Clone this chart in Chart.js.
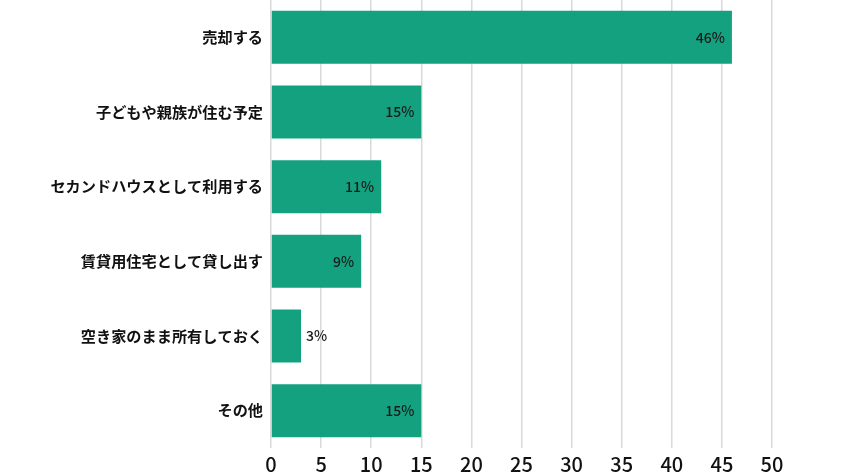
<!DOCTYPE html>
<html>
<head>
<meta charset="utf-8">
<script src="https://cdn.jsdelivr.net/npm/chart.js@4"></script>
<style>
  html, body { margin: 0; padding: 0; background: #ffffff; }
  #wrap { width: 850px; height: 473px; position: relative; }
</style>
</head>
<body>
<div id="wrap"><canvas id="c"></canvas></div>
<script>
// Survey answers and their shares (%)
const categories = [
  '売却する',
  '子どもや親族が住む予定',
  'セカンドハウスとして利用する',
  '賃貸用住宅として貸し出す',
  '空き家のまま所有しておく',
  'その他'
];
const shares = [46, 15, 11, 9, 3, 15];
const axisMax = 50;
const axisStep = 5;

const FONT = '"Noto Sans CJK JP", "Noto Sans", sans-serif';
const BAR_COLOR = '#13a17f';

// Writes each bar's value as a percentage at the bar's end
const valueLabels = {
  id: 'valueLabels',
  afterDatasetsDraw(chart) {
    const ctx = chart.ctx;
    const meta = chart.getDatasetMeta(0);
    ctx.save();
    ctx.font = '500 14px ' + FONT;
    ctx.fillStyle = '#1a1a1a';
    ctx.textBaseline = 'middle';
    meta.data.forEach((bar, i) => {
      const v = chart.data.datasets[0].data[i];
      const text = v + '%';
      const w = ctx.measureText(text).width;
      const inside = (bar.x - bar.base) > w + 12;
      if (inside) {
        ctx.textAlign = 'right';
        ctx.fillText(text, bar.x - 7, bar.y);
      } else {
        ctx.textAlign = 'left';
        ctx.fillText(text, bar.x + 5, bar.y);
      }
    });
    ctx.restore();
  }
};

new Chart(document.getElementById('c'), {
  type: 'bar',
  data: {
    labels: categories,
    datasets: [{
      data: shares,
      backgroundColor: BAR_COLOR,
      borderWidth: 0,
      categoryPercentage: 0.71,
      barPercentage: 1.0
    }]
  },
  options: {
    indexAxis: 'y',
    responsive: true,
    maintainAspectRatio: false,
    animation: false,
    layout: { padding: { top: 0, right: 78, bottom: 0, left: 0 } },
    plugins: {
      legend: { display: false },
      tooltip: { enabled: false }
    },
    scales: {
      x: {
        min: 0,
        max: axisMax,
        ticks: {
          stepSize: axisStep,
          color: '#111111',
          font: { family: FONT, size: 20, weight: '500' },
          padding: 4
        },
        grid: {
          color: '#d9d9d9',
          lineWidth: 1.5,
          drawTicks: false
        },
        border: { display: false },
        afterFit(scale) { scale.height = 25; }
      },
      y: {
        ticks: {
          color: '#111111',
          font: { family: FONT, size: 15.2, weight: 'bold' },
          padding: 8
        },
        grid: { display: false, drawTicks: false },
        border: { display: false },
        afterFit(scale) {
          scale.width = 271;
          scale.paddingTop = 0;
          scale.paddingBottom = 0;
        }
      }
    }
  },
  plugins: [valueLabels]
});
</script>
</body>
</html>
